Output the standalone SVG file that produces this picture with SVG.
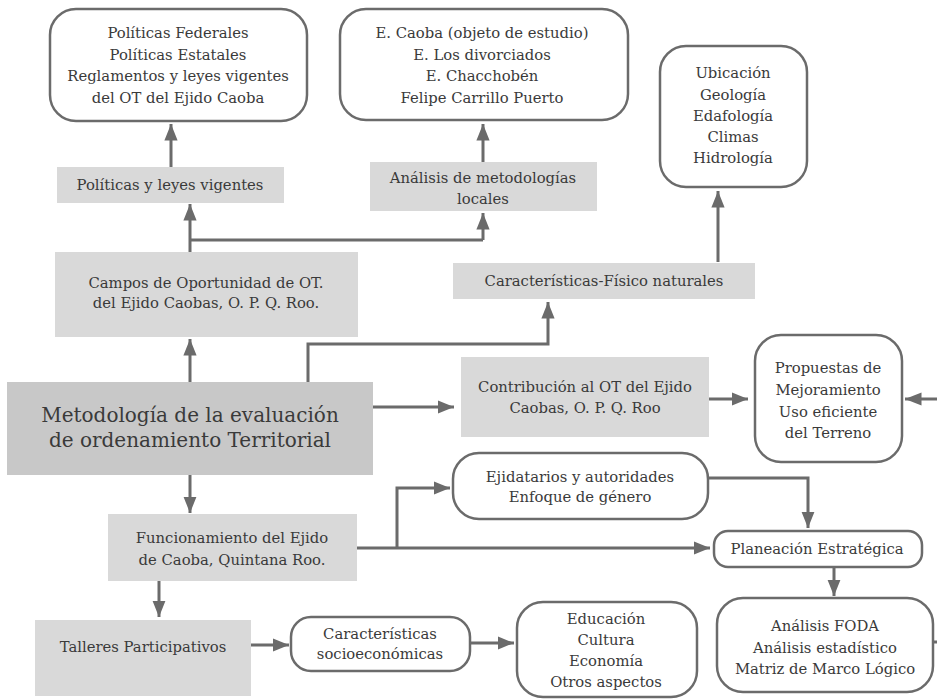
<svg xmlns="http://www.w3.org/2000/svg" width="937" height="699" viewBox="0 0 937 699">
<defs>
<marker id="ah" viewBox="0 0 10 8" refX="10" refY="4" markerWidth="5.5" markerHeight="4.4" orient="auto" markerUnits="strokeWidth">
<path d="M0,0 L10,4 L0,8 Z" fill="#6b6b6b"/>
</marker>
<style>
.t{font-family:"DejaVu Serif","Liberation Serif",serif;font-size:14.8px;fill:#3a3a3a;text-anchor:middle}
.big{font-size:20px}
.g{fill:#d9d9d9}
.d{fill:#c8c8c8}
.r{fill:#fff;stroke:#6b6b6b;stroke-width:2.5}
.c{fill:none;stroke:#6b6b6b;stroke-width:3}
.a{marker-end:url(#ah)}
</style>
</defs>
<rect width="937" height="699" fill="#fff"/>
<g id="connectors">
<path class="c a" d="M171,167 V124"/>
<path class="c a" d="M190,252 V204"/>
<path class="c" d="M190,240 H483"/>
<path class="c a" d="M483,240 V213"/>
<path class="c a" d="M483,162 V124"/>
<path class="c a" d="M190,382 V339"/>
<path class="c a" d="M308,382 V344 H548 V302"/>
<path class="c a" d="M718,262 V191"/>
<path class="c a" d="M373,407 H454"/>
<path class="c a" d="M709,399 H748"/>
<path class="c a" d="M937,399 H905"/>
<path class="c a" d="M190,475 V513"/>
<path class="c a" d="M357,548 H710"/>
<path class="c a" d="M397,548 V488 H450"/>
<path class="c a" d="M708,478 H808 V528"/>
<path class="c a" d="M834,567 V596"/>
<path class="c" d="M933,642 H937"/>
<path class="c a" d="M159,581 V617"/>
<path class="c a" d="M251,645 H289"/>
<path class="c a" d="M470,643 H514"/>
</g>
<g id="politicas-detalle">
<rect class="r" x="50" y="9" width="257" height="112" rx="26"/>
<text class="t" x="178" y="38">Políticas Federales</text>
<text class="t" x="178" y="60">Políticas Estatales</text>
<text class="t" x="178" y="81">Reglamentos y leyes vigentes</text>
<text class="t" x="178" y="103">del OT del Ejido Caoba</text>
</g>
<g id="ejidos-detalle">
<rect class="r" x="340" y="9" width="288" height="111" rx="26"/>
<text class="t" x="482" y="38">E. Caoba (objeto de estudio)</text>
<text class="t" x="482" y="60">E. Los divorciados</text>
<text class="t" x="482" y="81">E. Chacchobén</text>
<text class="t" x="482" y="103">Felipe Carrillo Puerto</text>
</g>
<g id="ubicacion">
<rect class="r" x="660" y="46" width="147" height="141" rx="26"/>
<text class="t" x="733" y="78">Ubicación</text>
<text class="t" x="733" y="100">Geología</text>
<text class="t" x="733" y="121">Edafología</text>
<text class="t" x="733" y="142">Climas</text>
<text class="t" x="733" y="163">Hidrología</text>
</g>
<g id="politicas-leyes">
<rect class="g" x="57" y="167" width="227" height="36"/>
<text class="t" x="170" y="190">Políticas y leyes vigentes</text>
</g>
<g id="analisis-metodologias">
<rect class="g" x="370" y="162" width="227" height="49"/>
<text class="t" x="483" y="183">Análisis de metodologías</text>
<text class="t" x="483" y="204">locales</text>
</g>
<g id="campos">
<rect class="g" x="55" y="252" width="303" height="85"/>
<text class="t" x="206" y="288">Campos de Oportunidad de OT.</text>
<text class="t" x="206" y="308">del Ejido Caobas, O. P. Q. Roo.</text>
</g>
<g id="caracteristicas-fisico">
<rect class="g" x="453" y="263" width="302" height="36"/>
<text class="t" x="604" y="286">Características-Físico naturales</text>
</g>
<g id="metodologia">
<rect class="d" x="7" y="382" width="366" height="93"/>
<text class="t big" x="190" y="422">Metodología de la evaluación</text>
<text class="t big" x="190" y="447">de ordenamiento Territorial</text>
</g>
<g id="contribucion">
<rect class="g" x="461" y="357" width="248" height="80"/>
<text class="t" x="585" y="392">Contribución al OT del Ejido</text>
<text class="t" x="585" y="413">Caobas, O. P. Q. Roo</text>
</g>
<g id="propuestas">
<rect class="r" x="755" y="335" width="147" height="127" rx="26"/>
<text class="t" x="828" y="373">Propuestas de</text>
<text class="t" x="828" y="395">Mejoramiento</text>
<text class="t" x="828" y="417">Uso eficiente</text>
<text class="t" x="828" y="438">del Terreno</text>
</g>
<g id="ejidatarios">
<rect class="r" x="453" y="453" width="255" height="66" rx="26"/>
<text class="t" x="580" y="482">Ejidatarios y autoridades</text>
<text class="t" x="580" y="502">Enfoque de género</text>
</g>
<g id="funcionamiento">
<rect class="g" x="108" y="514" width="249" height="67"/>
<text class="t" x="232" y="543">Funcionamiento del Ejido</text>
<text class="t" x="232" y="565">de Caoba, Quintana Roo.</text>
</g>
<g id="planeacion">
<rect class="r" x="714" y="531" width="208" height="36" rx="14"/>
<text class="t" x="817" y="554">Planeación Estratégica</text>
</g>
<g id="talleres">
<rect class="g" x="35" y="620" width="216" height="76"/>
<text class="t" x="143" y="652">Talleres Participativos</text>
</g>
<g id="socioeconomicas">
<rect class="r" x="291" y="617" width="179" height="54" rx="20"/>
<text class="t" x="380" y="639">Características</text>
<text class="t" x="380" y="659">socioeconómicas</text>
</g>
<g id="educacion">
<rect class="r" x="517" y="602" width="180" height="95" rx="26"/>
<text class="t" x="606" y="624">Educación</text>
<text class="t" x="606" y="645">Cultura</text>
<text class="t" x="606" y="666">Economía</text>
<text class="t" x="606" y="687">Otros aspectos</text>
</g>
<g id="foda">
<rect class="r" x="717" y="598" width="216" height="94" rx="26"/>
<text class="t" x="825" y="631">Análisis FODA</text>
<text class="t" x="825" y="653">Análisis estadístico</text>
<text class="t" x="825" y="674">Matriz de Marco Lógico</text>
</g>
</svg>
